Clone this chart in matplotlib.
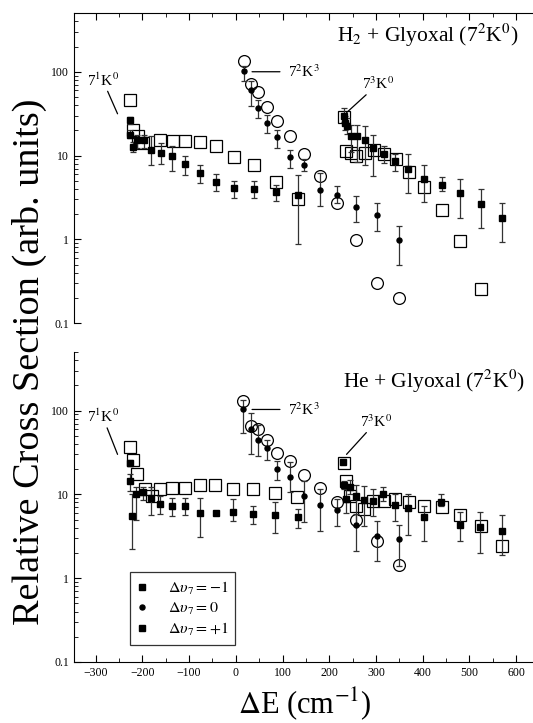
import matplotlib
matplotlib.use('Agg')
import matplotlib.pyplot as plt
from matplotlib.lines import Line2D
from matplotlib import ticker
import numpy as np

plt.rc('font', family='Liberation Serif', size=9)
plt.rc('mathtext', fontset='stix')

#############################################
# H2 + glyoxal (upper panel)
# 7^1K^0 progression, dv7 = -1 : x, y, low, high
h2_sq1_x  = [-227, -227, -220, -211, -197, -181, -160, -136, -109, -76, -42, -4, 39, 85, 133]
h2_sq1_y  = [26.3, 17.8, 12.6, 15.5, 15.5, 11.8, 10.6, 9.8, 7.9, 6.2, 4.9, 4.1, 4.0, 3.7, 3.4]
h2_sq1_lo = [24.0, 16.0, 11.0, 12.4, 12.4, 7.8, 8.0, 6.5, 5.9, 4.7, 3.75, 3.1, 3.1, 2.9, 0.87]
h2_sq1_hi = [28.5, 20.0, 14.5, 17.8, 17.8, 17.0, 14.2, 12.9, 9.8, 7.7, 6.1, 5.0, 5.0, 4.4, 5.8]
# 7^3K^0 progression, dv7 = +1
h2_sq3_x  = [231.6, 234.5, 238.7, 246.5, 259, 275.7, 293.4, 317, 341, 369.5, 402, 440.5, 480.4, 524.5, 570.6]
h2_sq3_y  = [29.4, 24.5, 22.8, 17.3, 17.3, 15.5, 12.4, 10.3, 8.7, 6.9, 5.2, 4.5, 3.6, 2.66, 1.78]
h2_sq3_lo = [25.0, 20.0, 18.0, 10.9, 8.3, 7.8, 5.7, 8.2, 6.5, 3.6, 2.8, 3.75, 1.8, 1.35, 0.93]
h2_sq3_hi = [37.0, 30.0, 28.0, 23.3, 23.3, 22.8, 17.8, 12.9, 10.3, 10.3, 7.8, 5.5, 5.2, 3.95, 2.7]
# 7^2K^3 progression, dv7 = 0
h2_ci_x  = [18.3, 32, 47.5, 66, 88.7, 115.8, 145.6, 179.7, 216.6, 258, 302, 350.3]
h2_ci_y  = [103, 61, 36.6, 24.5, 16.5, 9.6, 7.7, 3.86, 3.4, 2.45, 1.93, 0.99]
h2_ci_lo = [77, 38.6, 28, 18.6, 12.4, 7.1, 6.5, 2.5, 2.7, 1.6, 1.25, 0.49]
h2_ci_hi = [116, 77, 46, 30.7, 20, 11.8, 9.0, 6.2, 4.3, 3.3, 2.7, 1.45]
h2_oc_y  = [135, 71, 58, 38, 26, 17.3, 10.3, 5.7, 2.74, 0.98, 0.30, 0.20]
# open squares
h2_os_x = [-225.4, -219.6, -209.8, -198.3, -161.4, -135, -109, -77.6, -42, -3.6, 39, 85, 133,
           231.6, 236.6, 247, 256.5, 275.7, 295, 318, 343, 371.6, 403.6, 440.5, 480.4, 524.5]
h2_os_y = [45.5, 20.4, 17, 14.2, 15.5, 14.8, 14.8, 14.5, 12.9, 9.5, 7.8, 4.9, 3.0,
           28.9, 11.3, 10.6, 10, 10.6, 11.6, 10.5, 9.1, 6.4, 4.2, 2.23, 0.95, 0.254]

#############################################
# He + glyoxal (lower panel)
he_sq1_x  = [-226.9, -225.4, -221.7, -212.6, -198.3, -181, -161.4, -136, -109.6, -77.6, -42.6, -5, 37.5, 83.8, 133.5]
he_sq1_y  = [23.4, 14.4, 5.5, 10.2, 10.7, 9.1, 7.7, 7.2, 7.2, 6.0, 6.0, 6.1, 5.8, 5.7, 5.3]
he_sq1_lo = [21.5, 11.0, 2.2, 5.0, 8.5, 5.6, 5.8, 5.5, 5.6, 3.1, 5.6, 4.8, 4.4, 3.5, 4.0]
he_sq1_hi = [25.5, 17.3, 10.0, 12.1, 12.1, 12.1, 9.6, 9.0, 9.0, 9.0, 6.4, 8.9, 7.3, 8.0, 6.6]
he_sq3_x  = [229.5, 231.6, 236.6, 245.2, 258, 274, 293.4, 314.7, 341, 369.5, 402, 439, 480, 523, 570.6]
he_sq3_y  = [24.5, 12.9, 8.7, 12.3, 9.6, 8.5, 8.3, 10.0, 7.4, 6.8, 5.4, 8.2, 4.3, 4.05, 3.7]
he_sq3_lo = [23.0, 11.5, 6.0, 10.0, 4.2, 4.2, 5.5, 8.3, 4.8, 3.3, 2.75, 7.3, 2.75, 2.0, 1.9]
he_sq3_hi = [26.0, 14.5, 12.0, 15.0, 13.0, 12.6, 11.5, 12.3, 10.0, 10.0, 7.3, 10.0, 6.1, 6.1, 5.6]
he_ci_x  = [16.3, 32, 47.5, 66, 88.7, 115.8, 145.6, 179.7, 216.6, 258, 302, 350.3]
he_ci_y  = [103, 60.6, 45, 36, 19.9, 16.2, 9.6, 7.4, 6.5, 4.3, 3.15, 2.9]
he_ci_lo = [54, 30, 28.6, 26, 15, 10.6, 4.7, 3.7, 4.2, 2.1, 1.6, 1.4]
he_ci_hi = [135, 94, 68, 45, 25, 24, 14.4, 11.5, 8.7, 5.8, 4.8, 4.3]
he_oc_y  = [129, 66, 60.6, 44.3, 30.8, 25, 16.8, 12, 8.0, 4.9, 2.78, 1.43]
he_os_x = [-226.9, -219.6, -211.2, -193.4, -179, -161.4, -136, -109.6, -77.6, -44, -5, 37.5, 83.8, 131.3,
           231.6, 236.6, 243.6, 256.5, 274, 293.4, 316.2, 341, 370, 402, 440.5, 480.4, 524.5, 570.6]
he_os_y = [36.6, 26, 17.3, 11.5, 9.6, 11.7, 12, 12, 12.8, 12.8, 11.7, 11.5, 10.5, 9.3,
           23.8, 14.4, 9.6, 7.3, 6.6, 8.3, 8.3, 8.7, 8.0, 7.3, 7.0, 5.6, 4.2, 2.4]

legend_labels = [r'$\Delta\upsilon_7 = -1$', r'$\Delta\upsilon_7 = 0$', r'$\Delta\upsilon_7 = +1$']

#############################################

fig = plt.figure(figsize=(5.33, 7.23), dpi=100)
x0 = 0.139
w = 1.0 - x0
axT = fig.add_axes([x0, 0.553, w, 0.4288])
axB = fig.add_axes([x0, 0.0844, w, 0.4288])


def errs(y, lo, hi):
    y = np.array(y); lo = np.array(lo); hi = np.array(hi)
    return [y - lo, hi - y]


def draw(ax, os_x, os_y, ci_x, oc_y, sq1, sq3, ci):
    ax.plot(os_x, os_y, 's', ms=9, mfc='none', mec='k', mew=0.9, zorder=2)
    ax.plot(ci_x, oc_y, 'o', ms=8.5, mfc='none', mec='k', mew=0.9, zorder=2)
    for (x, y, lo, hi) in (sq1, sq3):
        ax.errorbar(x, y, yerr=errs(y, lo, hi), fmt='s', ms=4, color='k',
                    ecolor='0.2', elinewidth=0.9, capsize=2.5, capthick=0.9, zorder=3)
    x, y, lo, hi = ci
    ax.errorbar(x, y, yerr=errs(y, lo, hi), fmt='o', ms=3.6, color='k',
                ecolor='0.2', elinewidth=0.9, capsize=2.5, capthick=0.9, zorder=3)


draw(axT, h2_os_x, h2_os_y, h2_ci_x, h2_oc_y,
     (h2_sq1_x, h2_sq1_y, h2_sq1_lo, h2_sq1_hi),
     (h2_sq3_x, h2_sq3_y, h2_sq3_lo, h2_sq3_hi),
     (h2_ci_x, h2_ci_y, h2_ci_lo, h2_ci_hi))
draw(axB, he_os_x, he_os_y, he_ci_x, he_oc_y,
     (he_sq1_x, he_sq1_y, he_sq1_lo, he_sq1_hi),
     (he_sq3_x, he_sq3_y, he_sq3_lo, he_sq3_hi),
     (he_ci_x, he_ci_y, he_ci_lo, he_ci_hi))

for ax in (axT, axB):
    ax.set_yscale('log')
    ax.set_ylim(0.1, 500)
    ax.set_xlim(-346, 636)
    ax.spines['right'].set_visible(False)
    ax.yaxis.set_major_locator(ticker.FixedLocator([0.1, 1, 10, 100]))
    ax.yaxis.set_major_formatter(ticker.FuncFormatter(lambda v, p: '%g' % v))
    ax.yaxis.set_minor_locator(ticker.LogLocator(subs=np.arange(2, 10), numticks=20))
    ax.yaxis.set_minor_formatter(ticker.NullFormatter())
    ax.xaxis.set_major_locator(ticker.MultipleLocator(100))
    ax.xaxis.set_minor_locator(ticker.MultipleLocator(50))
    ax.tick_params(which='major', direction='in', length=5, width=0.8, labelsize=8.5)
    ax.tick_params(which='minor', direction='in', length=3, width=0.6)
    ax.tick_params(axis='y', right=False)

axT.spines['bottom'].set_visible(False)
axT.tick_params(axis='x', which='both', bottom=False, top=True, labelbottom=False)
axB.spines['top'].set_visible(False)
axB.tick_params(axis='x', which='both', top=False, bottom=True)

# panel titles
axT.text(0.968, 0.929, r'H$_2$ + Glyoxal (7$^2$K$^0$)', transform=axT.transAxes,
         ha='right', va='center', fontsize=15.5)
axB.text(0.982, 0.906, r'He + Glyoxal (7$^2$K$^0$)', transform=axB.transAxes,
         ha='right', va='center', fontsize=15.5)

# band labels
lab = dict(fontsize=11, ha='center', va='center',
           arrowprops=dict(arrowstyle='-', color='k', lw=0.9, shrinkA=0, shrinkB=0))
axT.annotate(r'7$^1$K$^0$', xy=(-253, 31.5), xytext=(-285, 80), **lab)
axT.annotate(r'7$^3$K$^0$', xy=(237, 32.5), xytext=(305, 72), **lab)
axT.annotate('', xy=(34.8, 100), xytext=(94.5, 100), arrowprops=lab['arrowprops'])
axT.text(111, 100, r'7$^2$K$^3$', fontsize=11, ha='left', va='center')

axB.annotate(r'7$^1$K$^0$', xy=(-253, 30), xytext=(-285, 85), **lab)
axB.annotate(r'7$^3$K$^0$', xy=(237, 30), xytext=(301, 74), **lab)
axB.annotate('', xy=(34.8, 103), xytext=(94.5, 103), arrowprops=lab['arrowprops'])
axB.text(111, 103, r'7$^2$K$^3$', fontsize=11, ha='left', va='center')

# legend
handles = [Line2D([], [], ls='none', marker='s', ms=4, color='k'),
           Line2D([], [], ls='none', marker='o', ms=3.6, color='k'),
           Line2D([], [], ls='none', marker='s', ms=4, color='k')]
leg = axB.legend(handles, legend_labels, loc='lower left', bbox_to_anchor=(0.122, 0.055),
                 borderaxespad=0, fontsize=11.5, frameon=True, fancybox=False, edgecolor='k',
                 handlelength=0.6, handletextpad=1.3, labelspacing=0.25, borderpad=0.45)
leg.get_frame().set_linewidth(0.9)

fig.text(0.055, 0.500, 'Relative Cross Section (arb. units)', rotation=90,
         ha='center', va='center', fontsize=27.5)
fig.text(0.572, 0.027, r'$\Delta$E (cm$^{-1}$)', ha='center', va='center', fontsize=22)

plt.savefig('out.png', dpi=100)
